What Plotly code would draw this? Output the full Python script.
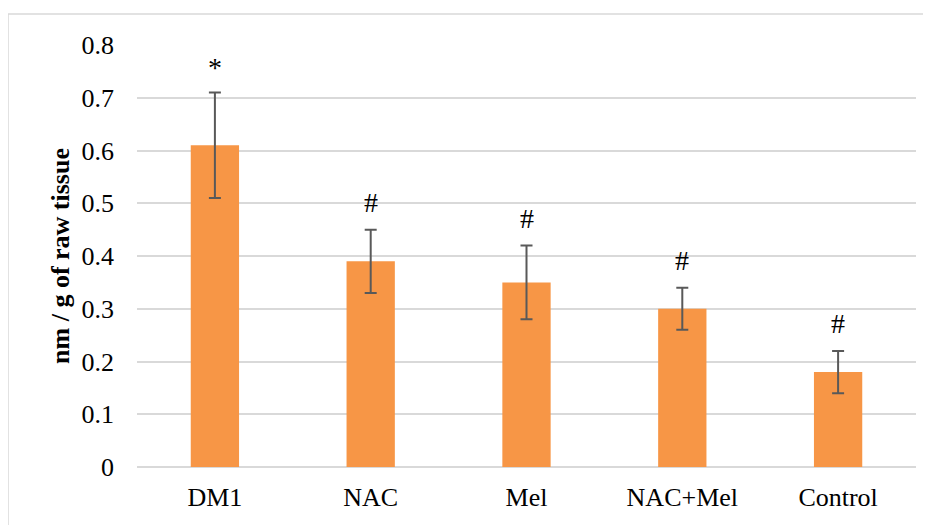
import plotly.graph_objects as go

categories = ["DM1", "NAC", "Mel", "NAC+Mel", "Control"]
values = [0.61, 0.39, 0.35, 0.30, 0.18]
errors = [0.10, 0.06, 0.07, 0.04, 0.04]
marks = ["*", "#", "#", "#", "#"]
y_ticks = [0, 0.1, 0.2, 0.3, 0.4, 0.5, 0.6, 0.7, 0.8]

FONT = "'Liberation Serif', 'Times New Roman', Times, serif"

fig = go.Figure()
fig.add_trace(go.Bar(
    x=categories, y=values,
    marker=dict(color="#F79646", line=dict(width=0)),
    error_y=dict(type="data", array=errors, visible=True, color="#595959", thickness=2, width=6),
))

for c, v, e, m in zip(categories, values, errors, marks):
    fig.add_annotation(x=c, y=v + e, text=m, showarrow=False, yanchor="middle",
                       yshift=(25 if m == "*" else 27),
                       font=dict(family=FONT, size=28, color="#000000"))

fig.add_shape(type="rect", xref="paper", yref="paper", x0=-0.1656, x1=1.04, y0=-0.2, y1=1.0735,
              line=dict(color="#d9d9d9", width=1.5), fillcolor="rgba(0,0,0,0)", layer="below")

fig.update_layout(
    width=923, height=517,
    margin=dict(l=129, r=15, t=37, b=58),
    paper_bgcolor="white", plot_bgcolor="white",
    bargap=0.69,
    showlegend=False,
    font=dict(family=FONT, size=26, color="#000000"),
    xaxis=dict(showgrid=False, showline=False, ticks="", ticklabelstandoff=12,
               tickfont=dict(family=FONT, size=26)),
    yaxis=dict(range=[0, 0.8], tickvals=y_ticks, ticktext=[f"{t:g}" for t in y_ticks],
               showgrid=True, gridcolor="#d9d9d9", gridwidth=1.5, zeroline=True, zerolinecolor="#d9d9d9",
               zerolinewidth=1.5, showline=False, ticks="", ticklabelstandoff=22,
               tickfont=dict(family=FONT, size=26),
               title=dict(text="<b>nm / g of raw tissue</b>", font=dict(family=FONT, size=26), standoff=4)),
)

fig.write_html("out.html")
